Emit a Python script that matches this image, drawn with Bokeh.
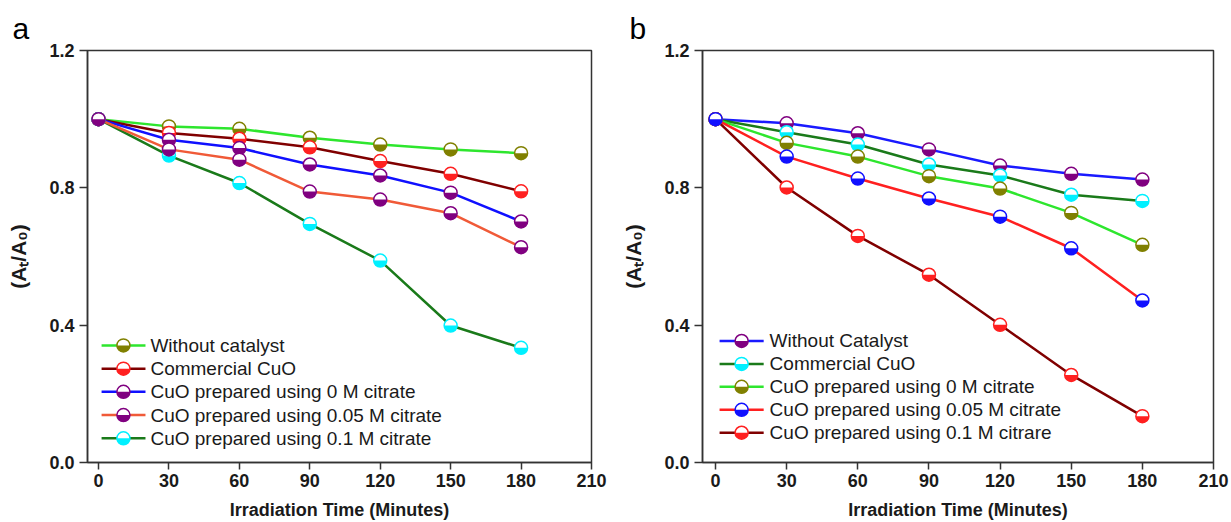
import numpy as np
from bokeh.plotting import figure
from bokeh.layouts import row
from bokeh.models import Range1d, FixedTicker, PrintfTickFormatter
from bokeh.core.properties import value
from bokeh.embed import file_html
from bokeh.resources import INLINE

# ---------------- data ----------------
time_min = [0, 30, 60, 90, 120, 150, 180]
x_ticks = [0, 30, 60, 90, 120, 150, 180, 210]
y_ticks = [0.0, 0.4, 0.8, 1.2]

# panel a
a_labels = ["Without catalyst", "Commercial CuO", "CuO prepared using 0 M citrate",
            "CuO prepared using 0.05 M citrate", "CuO prepared using 0.1 M citrate"]
a_without = [1.0, 0.979, 0.972, 0.946, 0.926, 0.912, 0.901]
a_commercial = [1.0, 0.960, 0.943, 0.918, 0.878, 0.841, 0.790]
a_cit0 = [1.0, 0.940, 0.916, 0.868, 0.836, 0.786, 0.702]
a_cit005 = [1.0, 0.912, 0.882, 0.789, 0.766, 0.726, 0.627]
a_cit01 = [1.0, 0.894, 0.814, 0.695, 0.588, 0.399, 0.334]
a_line_colors = ["#2ee62e", "#800000", "#1010ff", "#f05a38", "#1a7a1a"]
a_marker_colors = ["#808000", "#ff2020", "#800080", "#800080", "#00f0ff"]

# panel b
b_labels = ["Without Catalyst", "Commercial CuO", "CuO prepared using 0 M citrate",
            "CuO prepared using 0.05 M citrate", "CuO prepared using 0.1 M citrare"]
b_without = [1.0, 0.988, 0.959, 0.912, 0.865, 0.841, 0.824]
b_commercial = [1.0, 0.962, 0.926, 0.868, 0.836, 0.780, 0.762]
b_cit0 = [1.0, 0.931, 0.891, 0.834, 0.798, 0.727, 0.634]
b_cit005 = [1.0, 0.891, 0.827, 0.769, 0.716, 0.624, 0.472]
b_cit01 = [1.0, 0.801, 0.660, 0.547, 0.401, 0.255, 0.135]
b_line_colors = ["#1a1aff", "#1a7a1a", "#2ee62e", "#ff2020", "#800000"]
b_marker_colors = ["#800080", "#00f0ff", "#808000", "#1010ff", "#ff2020"]

FONT = "Liberation Sans"
TXT = "#1a1a1a"
DRAW_ORDER = [0, 1, 2, 4, 3]


def half_marker(p, xs, ys, color):
    p.scatter(x=xs, y=ys, marker="circle", size=13, fill_color="white",
              line_color=color, line_width=1.5)
    p.wedge(x=xs, y=ys, radius=6.5, radius_units="screen",
            start_angle=np.pi, end_angle=2 * np.pi,
            fill_color=color, line_color=None)


def make_panel(letter, series, labels, lcols, mcols, x_start, width,
               border_right, border_top, border_bottom, letter_offset, leg):
    p = figure(width=width, height=522, x_range=Range1d(x_start, 210),
               y_range=Range1d(0, 1.2), output_backend="svg", toolbar_location=None,
               min_border_left=87, min_border_right=border_right,
               min_border_top=border_top, min_border_bottom=border_bottom,
               title=letter)
    p.title.text_font = FONT
    p.title.text_font_style = "normal"
    p.title.text_font_size = "30px"
    p.title.text_color = "black"
    p.title.align = "left"
    p.title.offset = letter_offset
    p.title.standoff = 12

    p.xgrid.visible = False
    p.ygrid.visible = False
    p.outline_line_color = "#333333"
    p.outline_line_width = 1.5
    p.background_fill_color = "white"
    p.border_fill_color = "white"

    for ax in (p.xaxis[0], p.yaxis[0]):
        ax.axis_line_color = "#333333"
        ax.axis_line_width = 1.5
        ax.major_tick_line_color = "#333333"
        ax.major_tick_line_width = 1.5
        ax.major_tick_in = 0
        ax.minor_tick_line_color = None
        ax.major_label_text_font = FONT
        ax.major_label_text_font_style = "bold"
        ax.major_label_text_font_size = "18px"
        ax.major_label_text_color = TXT
        ax.axis_label_text_font = FONT
        ax.axis_label_text_font_style = "bold"
        ax.axis_label_text_font_size = "18px"
        ax.axis_label_text_color = TXT

    p.xaxis.ticker = FixedTicker(ticks=x_ticks)
    p.xaxis.major_tick_out = 7
    p.xaxis.major_label_standoff = 4
    p.xaxis.axis_label = "Irradiation Time (Minutes)"
    p.xaxis.axis_label_standoff = 10

    p.yaxis.ticker = FixedTicker(ticks=y_ticks)
    p.yaxis.formatter = PrintfTickFormatter(format="%.1f")
    p.yaxis.major_tick_out = 8
    p.yaxis.major_label_standoff = 5
    p.yaxis.axis_label = "(A\u209C/A\u2080)"
    p.yaxis.axis_label_text_font_size = "21px"
    p.yaxis.axis_label_standoff = 16

    for i in DRAW_ORDER:
        p.line(x=time_min, y=series[i], line_color=lcols[i], line_width=2.5)
    for i in DRAW_ORDER:
        half_marker(p, time_min, series[i], mcols[i])

    # legend (drawn manually so the half-filled markers match)
    lx0, lx1, lxm, lxt, ly0, ldy = leg
    rows_y = [ly0 - k * ldy for k in range(len(labels))]
    p.segment(x0=[lx0] * len(labels), y0=rows_y, x1=[lx1] * len(labels), y1=rows_y,
              line_color=lcols, line_width=2.5)
    for k in range(len(labels)):
        half_marker(p, [lxm], [rows_y[k]], mcols[k])
    p.text(x=[lxt] * len(labels), y=rows_y, text=labels, text_baseline="middle",
           text_align="left", text_font=value(FONT), text_font_size="19px",
           text_color=TXT)
    return p


pa = make_panel("a", [a_without, a_commercial, a_cit0, a_cit005, a_cit01],
                a_labels, a_line_colors, a_marker_colors,
                x_start=-4.7, width=615, border_right=24, border_top=50, border_bottom=60,
                letter_offset=-75,
                leg=(1.3, 20.0, 10.6, 22.1, 0.341, 0.0676))
pb = make_panel("b", [b_without, b_commercial, b_cit0, b_cit005, b_cit01],
                b_labels, b_line_colors, b_marker_colors,
                x_start=-5.5, width=616, border_right=18, border_top=46, border_bottom=59,
                letter_offset=-73,
                leg=(1.7, 20.3, 11.0, 22.8, 0.354, 0.0668))

layout = row(pa, pb)
open("out.html", "w").write(file_html(layout, INLINE))
